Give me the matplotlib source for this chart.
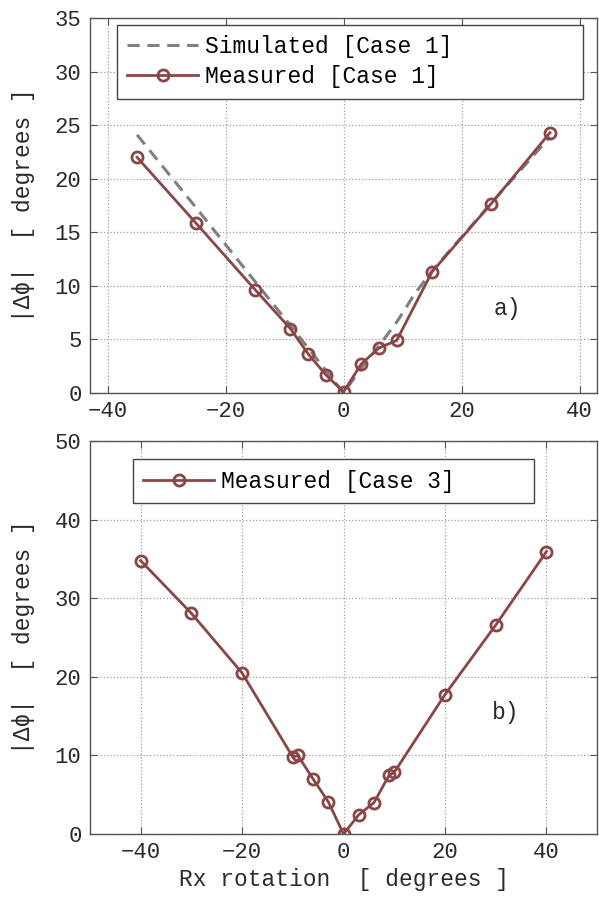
import numpy as np
import matplotlib
matplotlib.use('Agg')
import matplotlib.pyplot as plt

plt.rcParams['font.family'] = ['Liberation Mono', 'DejaVu Sans Mono']

# Case 1: rotation angles and phase difference magnitudes
rot_meas1 = [-35, -25, -15, -9, -6, -3, 0, 3, 6, 9, 15, 25, 35]
dphi_meas1 = [22.0, 15.85, 9.65, 6.0, 3.65, 1.7, 0.1, 2.7, 4.2, 4.9, 11.3, 17.65, 24.3]

rot_sim1 = [-35, -25, -15, -9, -6, -3, 0, 3, 6, 9, 12, 15, 25, 35]
dphi_sim1 = [24.1, 17.3, 10.4, 6.3, 4.2, 2.1, 0.0, 2.3, 4.4, 6.6, 9.2, 11.4, 17.7, 23.9]

# Case 3
rot_meas3 = [-40, -30, -20, -10, -9, -6, -3, 0, 3, 6, 9, 10, 20, 30, 40]
dphi_meas3 = [34.8, 28.1, 20.5, 9.8, 10.0, 7.0, 4.1, 0.0, 2.45, 4.0, 7.5, 7.85, 17.75, 26.6, 35.95]

meas_color = '#8a4646'
sim_color = '#808080'
txt_color = '#2a2a2a'

fig = plt.figure(figsize=(5.99, 8.97), dpi=100)
ax1 = fig.add_axes([0.150, 0.5619, 0.847, 0.418])
ax2 = fig.add_axes([0.150, 0.0702, 0.847, 0.438])


def style(ax):
    ax.grid(True, linestyle=':', color='#a0a0a0', linewidth=0.9)
    ax.tick_params(direction='in', top=True, right=True, length=5, pad=6,
                   labelsize=16, labelcolor=txt_color, color='#555555')
    for s in ax.spines.values():
        s.set_color('#555555')
        s.set_linewidth(1.0)
    ax.set_ylabel('|Δϕ|  [ degrees ]', fontsize=16.5, color=txt_color, labelpad=14)


ax1.plot(rot_sim1, dphi_sim1, '--', color=sim_color, lw=2.2, dashes=(4, 2.5),
         label='Simulated [Case 1]')
ax1.plot(rot_meas1, dphi_meas1, '-o', color=meas_color, lw=2.0, ms=8,
         mfc='none', mew=2.0, label='Measured [Case 1]')
ax1.set_xlim(-43, 43)
ax1.set_ylim(0, 35)
ax1.set_xticks([-40, -20, 0, 20, 40])
ax1.set_yticks(np.arange(0, 36, 5))
style(ax1)
ax1.text(27.8, 7.9, 'a)', fontsize=16.5, ha='center', va='center', color=txt_color)
leg1 = ax1.legend(loc='upper left', bbox_to_anchor=(0.053, 0.789, 0.919, 0.192),
                  mode='expand', fontsize=16.5, handlelength=3.1, handletextpad=0.3,
                  fancybox=False, framealpha=1, edgecolor='#444444',
                  borderaxespad=0, labelspacing=0.3, borderpad=0.45)
leg1.get_frame().set_linewidth(1.0)

ax2.plot(rot_meas3, dphi_meas3, '-o', color=meas_color, lw=2.0, ms=8,
         mfc='none', mew=2.0, label='Measured [Case 3]')
ax2.set_xlim(-50, 50)
ax2.set_ylim(0, 50)
ax2.set_xticks([-40, -20, 0, 20, 40])
ax2.set_yticks(np.arange(0, 51, 10))
style(ax2)
ax2.set_xlabel('Rx rotation  [ degrees ]', fontsize=16.5, color=txt_color, labelpad=3)
ax2.text(32, 15.5, 'b)', fontsize=16.5, ha='center', va='center', color=txt_color)
leg2 = ax2.legend(loc='upper left', bbox_to_anchor=(0.085, 0.845, 0.791, 0.109),
                  mode='expand', fontsize=16.5, handlelength=3.1, handletextpad=0.3,
                  fancybox=False, framealpha=1, edgecolor='#444444',
                  borderaxespad=0, borderpad=0.45)
leg2.get_frame().set_linewidth(1.0)

fig.savefig('out.png', dpi=100)
